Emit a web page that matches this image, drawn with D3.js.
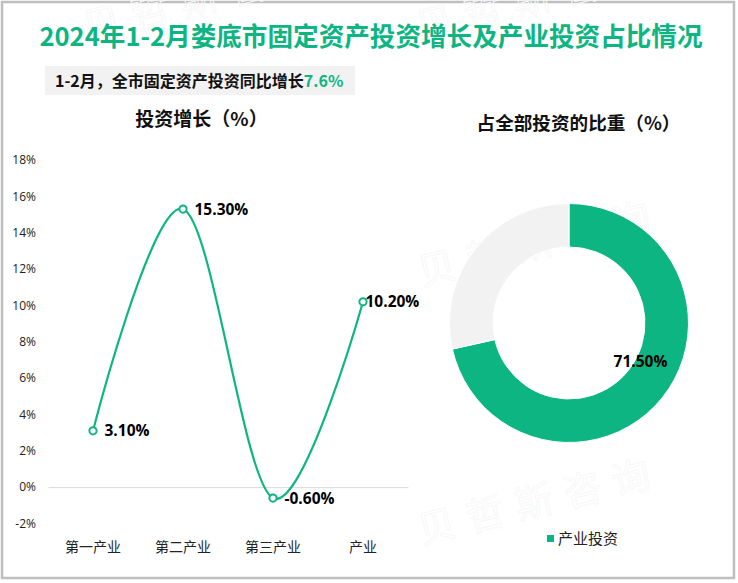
<!DOCTYPE html>
<meta charset="utf-8">
<style>
html,body{margin:0;padding:0;background:#fff;}
svg{display:block;}
text{font-family:"Open Sans","Noto Sans CJK SC",sans-serif;}
.cjk{font-family:"Noto Sans CJK SC",sans-serif;}
</style>
<script src="https://d3js.org/d3.v7.min.js"></script>
<svg id="chart" width="738" height="583"></svg>
<script>
// data
var categories = ["第一产业", "第二产业", "第三产业", "产业"];
var growth = [3.1, 15.3, -0.6, 10.2];
var yTicks = [-2, 0, 2, 4, 6, 8, 10, 12, 14, 16, 18];
var shareNames = ["产业投资", "其他"];
var shareValues = [71.5, 28.5];

var green = "#0DB582", pale = "#F2F2F2";
var svg = d3.select("#chart");

// outer frame
svg.append("rect").attr("x", 2).attr("y", 2).attr("width", 732).attr("height", 576)
  .attr("fill", "#fff").attr("stroke", "#bfbfbf").attr("stroke-width", 2.5);

// faint watermark, the top two run off the edge like in the original
var marks = [[208, 11], [541, 11], [543, 256], [543, 514]];
marks.forEach(function(m){
  svg.append("text").attr("class", "cjk")
    .attr("transform", "translate(" + m[0] + "," + m[1] + ") rotate(-14)")
    .attr("text-anchor", "middle")
    .attr("font-size", 38).attr("letter-spacing", 12)
    .attr("fill", "none").attr("stroke", "#f7f8f8").attr("stroke-width", 1)
    .text("贝哲斯咨询");
});

// titles
svg.append("text").attr("class", "cjk").attr("x", 371).attr("y", 46)
  .attr("text-anchor", "middle").attr("font-size", 25.6).attr("font-weight", 700)
  .attr("fill", green).text("2024年1-2月娄底市固定资产投资增长及产业投资占比情况");

svg.append("rect").attr("x", 45).attr("y", 66).attr("width", 310).attr("height", 29).attr("fill", pale);
var sub = svg.append("text").attr("class", "cjk").attr("x", 55).attr("y", 87)
  .attr("font-size", 16).attr("font-weight", 700).attr("fill", "#111");
sub.append("tspan").text("1-2月，全市固定资产投资同比增长");
sub.append("tspan").attr("fill", green).text("7.6%");

svg.append("text").attr("class", "cjk").attr("x", 201.5).attr("y", 126)
  .attr("text-anchor", "middle").attr("font-size", 19).attr("font-weight", 700)
  .attr("fill", "#111").text("投资增长（%）");
svg.append("text").attr("class", "cjk").attr("x", 578.5).attr("y", 130)
  .attr("text-anchor", "middle").attr("font-size", 18.6).attr("font-weight", 700)
  .attr("fill", "#111").text("占全部投资的比重（%）");

// line chart
var x = d3.scaleBand().domain(categories).range([48, 408]);
var y = d3.scaleLinear().domain([-2, 18]).range([523.5, 160]);
var cx = function(d){ return x(d) + x.bandwidth() / 2; };

var yAxis = d3.axisLeft(y).tickValues(yTicks).tickSize(0).tickPadding(0)
  .tickFormat(function(d){ return d + "%"; });
var yG = svg.append("g").attr("transform", "translate(36,0)").call(yAxis);
yG.select(".domain").remove();
yG.selectAll("text").attr("font-size", 12).attr("fill", "#222")
  .style("font-family", '"Open Sans",sans-serif');

var xAxis = d3.axisBottom(x).tickSize(0).tickPadding(0);
var xG = svg.append("g").attr("transform", "translate(0," + y(0) + ")").call(xAxis);
xG.select(".domain").attr("stroke", "#d9d9d9").attr("stroke-width", 1);
xG.selectAll("text").attr("class", "cjk").attr("font-size", 14).attr("fill", "#222")
  .attr("y", 0).attr("dy", 0)
  .attr("transform", "translate(0," + (y(-2) - y(0) + 28) + ")");

var line = d3.line()
  .x(function(d, i){ return cx(categories[i]); })
  .y(function(d){ return y(d); })
  .curve(d3.curveCardinal.tension(0));
svg.append("path").datum(growth).attr("d", line)
  .attr("fill", "none").attr("stroke", green).attr("stroke-width", 2.2);

svg.selectAll("circle.pt").data(growth).enter().append("circle")
  .attr("class", "pt")
  .attr("cx", function(d, i){ return cx(categories[i]); })
  .attr("cy", function(d){ return y(d); })
  .attr("r", 3.6).attr("fill", "#fff").attr("stroke", green).attr("stroke-width", 2);

var labelGap = [11.5, 11.5, 11.5, 2.5];
svg.selectAll("text.val").data(growth).enter().append("text")
  .attr("class", "val")
  .attr("x", function(d, i){ return cx(categories[i]) + labelGap[i]; })
  .attr("y", function(d){ return y(d) + 5.5; })
  .attr("font-size", 15.5).attr("font-weight", 700).attr("fill", "#000")
  .text(function(d){ return d.toFixed(2) + "%"; });

// donut
var pie = d3.pie().sort(null)(shareValues);
var arc = d3.arc().innerRadius(76).outerRadius(119.5);
var donut = svg.append("g").attr("transform", "translate(569,323)");
donut.selectAll("path").data(pie).enter().append("path")
  .attr("d", arc)
  .attr("fill", function(d, i){ return i == 0 ? green : pale; })
  .attr("stroke", "#fff").attr("stroke-width", 1);
donut.append("text").attr("x", 71.5).attr("y", 43.5)
  .attr("text-anchor", "middle").attr("font-size", 15.5).attr("font-weight", 700).attr("fill", "#000")
  .text(shareValues[0].toFixed(2) + "%");

// legend
svg.append("rect").attr("x", 547).attr("y", 535).attr("width", 7).attr("height", 7).attr("fill", green);
svg.append("text").attr("class", "cjk").attr("x", 558).attr("y", 544)
  .attr("font-size", 15).attr("fill", "#222").text(shareNames[0]);
</script>
